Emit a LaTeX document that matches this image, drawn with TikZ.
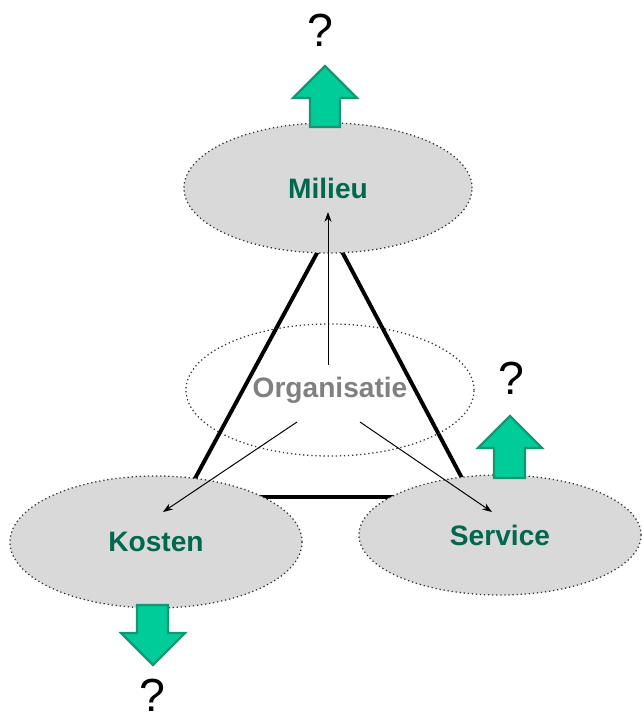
\documentclass[tikz,border=0pt]{standalone}
\usepackage{fontspec}
\setmainfont{Liberation Sans}
\usetikzlibrary{positioning}
\usetikzlibrary{shapes.geometric}
\usetikzlibrary{arrows.meta}
\definecolor{groenvlak}{RGB}{0,204,153}
\definecolor{groenrand}{RGB}{20,150,112}
\definecolor{groentekst}{RGB}{0,104,78}
\definecolor{grijsvlak}{RGB}{217,217,217}
\definecolor{grijsrand}{RGB}{50,50,50}
\tikzset{
  bol/.style={ellipse, draw=grijsrand, dotted, line width=0.9pt, fill=grijsvlak, inner sep=0pt,
    text=groentekst, font=\fontsize{20}{24}\selectfont\bfseries},
  pijl/.style={draw=groenrand, fill=groenvlak, line width=1.6pt, line join=miter},
  vraag/.style={font=\fontsize{33}{40}\selectfont},
  lijn/.style={-{Stealth[length=7pt,width=5pt]}, line width=0.7pt}
}
\begin{document}
\begin{tikzpicture}[x=0.025cm,y=-0.025cm]
\useasboundingbox (0,0) rectangle (641,719);

% driehoek
\coordinate (top) at (330,229);
\coordinate (links) at (185,497);
\coordinate (rechts) at (472,497);
\draw[line width=2.8pt, line join=miter] (top) -- (links) -- (rechts) -- cycle;

% ellipsen
\node[bol, minimum width=7.2cm, minimum height=3.25cm] (milieu) at (328,188) {Milieu};
\node[bol, minimum width=7.3cm, minimum height=3.3cm] (kosten) at (156,542) {Kosten};
\node[bol, minimum width=7.05cm, minimum height=3cm] (service) at (500,535) {Service};
\node[bol, fill=none, text=gray, minimum width=7.2cm, minimum height=3.3cm] (org) at (330,390) {Organisatie};

% pijlen uit organisatie
\coordinate (orgN) at (328,365);
\coordinate (orgL) at (297,422);
\coordinate (orgR) at (360,422);
\coordinate (milieuIn) at (328,212);
\coordinate (kostenIn) at (163,512);
\coordinate (serviceIn) at (492,512);
\draw[lijn] (orgN) -- (milieuIn);
\draw[lijn] (orgL) -- (kostenIn);
\draw[lijn] (orgR) -- (serviceIn);

% groene pijlen
\draw[pijl] (310,127) -- (310,98) -- (293,98) -- (325,66) -- (357,98) -- (340,98) -- (340,127) -- cycle;
\draw[pijl] (494,478) -- (494,448) -- (478,448) -- (510,416) -- (542,448) -- (525,448) -- (525,478) -- cycle;
\draw[pijl] (137,605) -- (137,633) -- (121,633) -- (153,665) -- (185,633) -- (168,633) -- (168,605) -- cycle;

% vraagtekens
\node[vraag] (vraagM) at (320,30) {?};
\node[vraag] (vraagS) at (511,378) {?};
\node[vraag] (vraagK) at (152,695) {?};

\end{tikzpicture}
\end{document}
